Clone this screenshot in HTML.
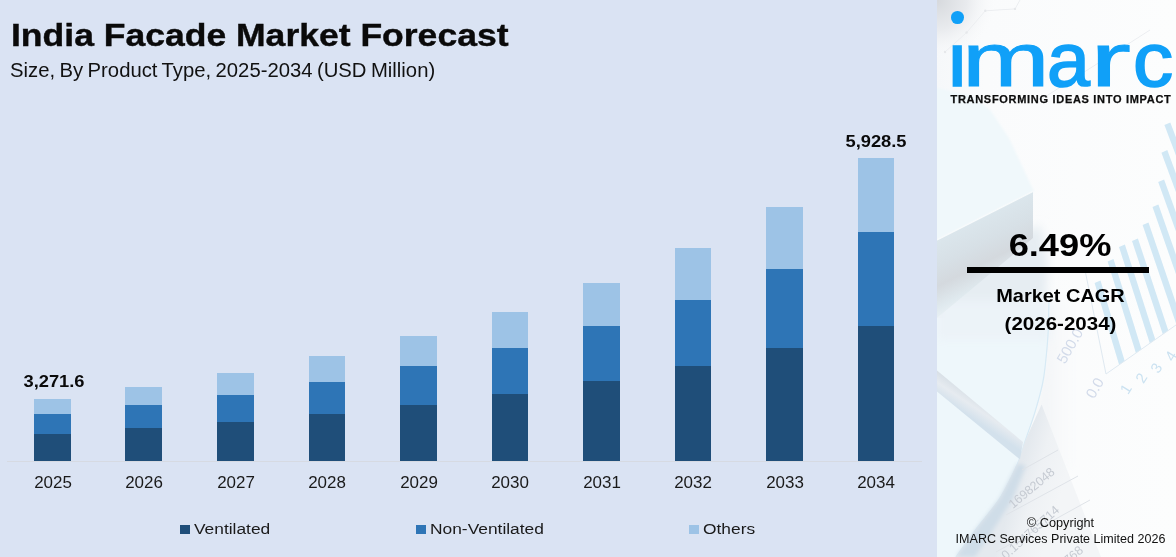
<!DOCTYPE html>
<html lang="en"><head><meta charset="utf-8"><title>India Facade Market Forecast</title>
<style>
html,body{margin:0;padding:0}
body{width:1176px;height:557px;position:relative;overflow:hidden;background:#dae3f3;font-family:"Liberation Sans",sans-serif;color:#000}
.abs{position:absolute;white-space:nowrap}
#title{left:11px;top:15px;font-size:32px;font-weight:bold;line-height:40px;transform-origin:0 0;transform:scaleX(1.11);color:#0a0a0a;-webkit-text-stroke:0.4px #0a0a0a}
#sub{left:9.5px;top:58px;font-size:20px;line-height:24px;transform-origin:0 0;transform:scaleX(1.014);word-spacing:-1.2px;color:#111}
.bar{position:absolute;width:37px}
.d{background:#1f4e79}.m{background:#2e75b6}.l{background:#9dc3e6}
.yr{position:absolute;top:473px;width:80px;text-align:center;font-size:16px;line-height:20px;color:#1a1a1a;transform:scaleX(1.06)}
.val{position:absolute;width:100px;text-align:center;font-size:16.5px;font-weight:bold;line-height:20px;color:#0a0a0a;transform:scaleX(1.11)}
#axis{position:absolute;left:7px;top:461px;width:915px;height:1px;background:#d6dae2}
.leg{position:absolute;top:518.5px;font-size:15.5px;line-height:20px;color:#1a1a1a;white-space:nowrap;transform-origin:0 0;transform:scaleX(1.12)}
.sw{position:absolute;top:525px;width:10px;height:9px}
#panel{position:absolute;left:937px;top:0;width:239px;height:557px;background:#f6f8fb;overflow:hidden}
</style></head><body>
<div id="title" class="abs">India Facade Market Forecast</div>
<div id="sub" class="abs">Size, By Product Type, 2025-2034 (USD Million)</div>

<div class="bar l" style="left:34px;width:37px;top:399px;height:15px"></div>
<div class="bar m" style="left:34px;width:37px;top:414px;height:20px"></div>
<div class="bar d" style="left:34px;width:37px;top:434px;height:27px"></div>
<div class="yr" style="left:12.5px">2025</div>
<div class="bar l" style="left:125px;width:37px;top:387px;height:18px"></div>
<div class="bar m" style="left:125px;width:37px;top:405px;height:23px"></div>
<div class="bar d" style="left:125px;width:37px;top:428px;height:33px"></div>
<div class="yr" style="left:104.0px">2026</div>
<div class="bar l" style="left:217px;width:37px;top:373px;height:22px"></div>
<div class="bar m" style="left:217px;width:37px;top:395px;height:27px"></div>
<div class="bar d" style="left:217px;width:37px;top:422px;height:39px"></div>
<div class="yr" style="left:195.5px">2027</div>
<div class="bar l" style="left:309px;width:36px;top:356px;height:26px"></div>
<div class="bar m" style="left:309px;width:36px;top:382px;height:32px"></div>
<div class="bar d" style="left:309px;width:36px;top:414px;height:47px"></div>
<div class="yr" style="left:287.0px">2028</div>
<div class="bar l" style="left:400px;width:37px;top:336px;height:30px"></div>
<div class="bar m" style="left:400px;width:37px;top:366px;height:39px"></div>
<div class="bar d" style="left:400px;width:37px;top:405px;height:56px"></div>
<div class="yr" style="left:378.5px">2029</div>
<div class="bar l" style="left:492px;width:36px;top:312px;height:36px"></div>
<div class="bar m" style="left:492px;width:36px;top:348px;height:46px"></div>
<div class="bar d" style="left:492px;width:36px;top:394px;height:67px"></div>
<div class="yr" style="left:470.0px">2030</div>
<div class="bar l" style="left:583px;width:37px;top:283px;height:43px"></div>
<div class="bar m" style="left:583px;width:37px;top:326px;height:55px"></div>
<div class="bar d" style="left:583px;width:37px;top:381px;height:80px"></div>
<div class="yr" style="left:561.5px">2031</div>
<div class="bar l" style="left:675px;width:36px;top:248px;height:52px"></div>
<div class="bar m" style="left:675px;width:36px;top:300px;height:66px"></div>
<div class="bar d" style="left:675px;width:36px;top:366px;height:95px"></div>
<div class="yr" style="left:653.0px">2032</div>
<div class="bar l" style="left:766px;width:37px;top:207px;height:62px"></div>
<div class="bar m" style="left:766px;width:37px;top:269px;height:79px"></div>
<div class="bar d" style="left:766px;width:37px;top:348px;height:113px"></div>
<div class="yr" style="left:744.5px">2033</div>
<div class="bar l" style="left:858px;width:36px;top:158px;height:74px"></div>
<div class="bar m" style="left:858px;width:36px;top:232px;height:94px"></div>
<div class="bar d" style="left:858px;width:36px;top:326px;height:135px"></div>
<div class="yr" style="left:836.0px">2034</div>
<div id="axis"></div>
<div class="val" style="left:4px;top:371px">3,271.6</div>
<div class="val" style="left:826px;top:131px">5,928.5</div>
<div class="sw d" style="left:180px"></div><div class="leg" style="left:194px">Ventilated</div>
<div class="sw m" style="left:416px"></div><div class="leg" style="left:430px">Non-Ventilated</div>
<div class="sw l" style="left:689px"></div><div class="leg" style="left:703px">Others</div>
<div id="panel">
<svg class="abs" style="left:0;top:0" width="239" height="557" viewBox="937 0 239 557">
<defs>
<linearGradient id="gbase" x1="0" y1="0" x2="1" y2="0"><stop offset="0" stop-color="#f6f8fa"/><stop offset="0.2" stop-color="#fafbfc"/><stop offset="1" stop-color="#fcfdfd"/></linearGradient>
<radialGradient id="gcorner" gradientUnits="userSpaceOnUse" cx="937" cy="0" r="60"><stop offset="0" stop-color="#d6d9dd"/><stop offset="0.5" stop-color="#e9ebee"/><stop offset="1" stop-color="#fafbfc" stop-opacity="0"/></radialGradient>
<linearGradient id="gface" gradientUnits="userSpaceOnUse" x1="985" y1="216" x2="1019" y2="283"><stop offset="0" stop-color="#dbe6ec"/><stop offset="0.3" stop-color="#d7e0e6"/><stop offset="0.55" stop-color="#d4d9de"/><stop offset="0.8" stop-color="#dfe9ee"/><stop offset="1" stop-color="#edf4f8"/></linearGradient>
<linearGradient id="gpen" gradientUnits="userSpaceOnUse" x1="986" y1="402" x2="974" y2="420"><stop offset="0" stop-color="#d6dee5"/><stop offset="0.5" stop-color="#e6ebf0"/><stop offset="1" stop-color="#d3e1ec"/></linearGradient>
<linearGradient id="gpaper" gradientUnits="userSpaceOnUse" x1="1026" y1="450" x2="1070" y2="463"><stop offset="0" stop-color="#e4e9ee"/><stop offset="0.4" stop-color="#eef1f4"/><stop offset="1" stop-color="#f3f5f7"/></linearGradient>
<linearGradient id="gshade" gradientUnits="userSpaceOnUse" x1="985" y1="515" x2="1000" y2="527"><stop offset="0" stop-color="#cbdae6"/><stop offset="1" stop-color="#e6ebf0" stop-opacity="0"/></linearGradient>
<linearGradient id="gright" gradientUnits="userSpaceOnUse" x1="1045" y1="0" x2="1085" y2="0"><stop offset="0" stop-color="#f3f5f7"/><stop offset="1" stop-color="#fbfcfd" stop-opacity="0"/></linearGradient>
<filter id="b12" x="-20%" y="-20%" width="140%" height="140%"><feGaussianBlur stdDeviation="1.3"/></filter>
<filter id="b2" x="-20%" y="-20%" width="140%" height="140%"><feGaussianBlur stdDeviation="2"/></filter>
<filter id="b1" x="-20%" y="-20%" width="140%" height="140%"><feGaussianBlur stdDeviation="0.7"/></filter>
<filter id="b6" x="-30%" y="-30%" width="160%" height="160%"><feGaussianBlur stdDeviation="5"/></filter>
</defs>
<rect x="937" y="0" width="239" height="557" fill="url(#gbase)"/>
<rect x="937" y="0" width="70" height="70" fill="url(#gcorner)"/>
<g stroke="#eceef1" stroke-width="1" fill="none" filter="url(#b1)"><path d="M945 52 L966.6 32.5 L985.3 10.8 L1015 8.9 L1020 0"/><path d="M1040 100 L1100 62 L1150 30"/></g>
<g fill="#e6e8eb"><circle cx="966.6" cy="32.5" r="1.2"/><circle cx="985.3" cy="10.8" r="1.2"/><circle cx="1015" cy="8.9" r="1.2"/><circle cx="945" cy="52" r="1.2"/></g>
<!-- area right of the curve -->
<path d="M1049 300 L1090 300 L1090 470 L1030 470 Z" fill="url(#gright)" filter="url(#b6)"/>
<!-- soft shade below front face -->
<path d="M937 280 L1040 225 L1048 262 L1046 300 L937 345 Z" fill="#e6edf2" filter="url(#b6)"/>
<!-- lower-left pale blue area -->
<path d="M1049 300 C1048.8 305.8 1048.6 324.2 1048 335 C1047.4 345.8 1046.2 356.8 1045.3 365 C1044.4 373.2 1044.2 376.2 1042.5 384 C1040.8 391.8 1037.8 402.7 1035 412 C1032.2 421.3 1028.4 431.4 1025.5 440 C1022.6 448.6 1021.9 453.7 1017.6 463.4 C1013.4 473.1 1007.1 486.8 1000 498 C992.9 509.2 982.3 520.8 975 530.6 C967.7 540.4 960.2 551.1 956 557 C951.8 562.9 951.0 564.5 950 566 L930 566 L930 318 L1049 318 Z" fill="#eef7fb" filter="url(#b1)"/>
<path d="M937 300 L1049 300 L1049 340 L937 340 Z" fill="#ecf3f8" filter="url(#b6)"/>
<path d="M1049 300 C1048.8 305.8 1048.6 324.2 1048 335 C1047.4 345.8 1046.2 356.8 1045.3 365 C1044.4 373.2 1044.2 376.2 1042.5 384 C1040.8 391.8 1037.8 402.7 1035 412 C1032.2 421.3 1028.4 431.4 1025.5 440 C1022.6 448.6 1021.9 453.7 1017.6 463.4 C1013.4 473.1 1007.1 486.8 1000 498 C992.9 509.2 982.3 520.8 975 530.6 C967.7 540.4 960.2 551.1 956 557 C951.8 562.9 951.0 564.5 950 566" fill="none" stroke="#d7eaf5" stroke-width="1.2" filter="url(#b1)"/>
<!-- block top face -->
<path d="M930 86 L972 96 L991 111 L1009 138 L1034 191.5 L930 243 Z" fill="#f0f8fb" filter="url(#b12)"/>
<!-- block front face -->
<path d="M937 240 L1033 191.5 L1033 238 L937 318 Z" fill="url(#gface)" filter="url(#b1)"/>
<path d="M937 240 L1033 191.5" stroke="#f8fbfc" stroke-width="1.3" fill="none" filter="url(#b1)"/>
<!-- chart stripes -->
<g fill="#d1e8f5" filter="url(#b1)">
<path d="M1164.4 125.0 L1170.3 122.4 L1232.3 285.6 L1226.9 289.4 Z"/>
<path d="M1161.4 152.7 L1167.3 150.1 L1220.5 293.9 L1215.0 297.7 Z"/>
<path d="M1158.2 182.0 L1164.1 179.4 L1208.4 302.3 L1202.9 306.2 Z"/>
<path d="M1152.5 207.0 L1158.4 204.4 L1195.8 311.2 L1190.3 315.0 Z"/>
<path d="M1142.6 225.0 L1148.5 222.4 L1182.0 320.8 L1176.5 324.7 Z"/>
<path d="M1132.0 241.0 L1137.9 238.4 L1168.3 330.4 L1162.8 334.3 Z"/>
<path d="M1119.0 247.0 L1124.9 244.4 L1155.3 339.5 L1149.8 343.3 Z"/>
<path d="M1107.6 261.6 L1113.5 259.0 L1141.5 349.2 L1135.9 353.0 Z"/>
<path d="M1094.6 283.0 L1100.5 280.4 L1124.7 360.9 L1119.1 364.8 Z"/>
</g>
<path d="M1085 270 L1106 374 L1176 325" fill="none" stroke="#dfe9f1" stroke-width="1"/>
<g font-family="Liberation Sans, sans-serif" fill="#d3dbea" font-size="15" text-anchor="middle" filter="url(#b1)">
<text transform="translate(1070,346) rotate(-60)" y="5">500.0</text>
<text transform="translate(1095,388) rotate(-60)" y="5">0.0</text>
<text transform="translate(1126,389) rotate(-58)" y="5" fill="#cbe2f1">1</text>
<text transform="translate(1141.5,378) rotate(-58)" y="5" fill="#cbe2f1">2</text>
<text transform="translate(1156.5,368) rotate(-58)" y="5" fill="#cbe2f1">3</text>
<text transform="translate(1171,356) rotate(-58)" y="5" fill="#cbe2f1">4</text>
</g>
<!-- paper -->
<path d="M1041.6 404.6 L1101 557 L956 557 L975 530.6 L1000 498 L1017.6 463.4 L1025.5 440 Z" fill="url(#gpaper)" filter="url(#b1)"/>
<path d="M1017.6 463.4 L1000 498 L975 530.6 L956 557 L975 557 L990 535 L1012 500 L1026 466 Z" fill="#cfdde8" filter="url(#b2)"/>
<g stroke="#dfe3e8" stroke-width="1" fill="none">
<path d="M1022 470 L1058 450"/><path d="M1006 515 L1078 476"/><path d="M996 552 L1090 500"/>
</g>
<g font-family="Liberation Sans, sans-serif" fill="#c6cbd3" font-size="12.5" filter="url(#b1)">
<text transform="translate(1013,509) rotate(-40)">16982048</text>
<text transform="translate(1006,560) rotate(-42)">0.154765714</text>
<text transform="translate(1068,565) rotate(-40)">768</text>
</g>
<!-- pen -->
<path d="M937 370.5 L1023 442 L1020 459.5 L937 391.5 Z" fill="url(#gpen)" filter="url(#b1)"/>
</svg>
<div class="abs" id="logo" style="left:0;top:22px;width:239px;height:76px;font-size:76px;font-weight:normal;color:#10a0f8;line-height:1"><span style="position:absolute;left:11.1px;top:0;transform-origin:0 0;transform:scaleX(1.1);-webkit-text-stroke:1.7px #10a0f8;clip-path:inset(19px 0 0 0);">i</span><span style="position:absolute;left:24.9px;top:0;transform-origin:0 0;transform:scaleX(1.384);-webkit-text-stroke:0.9px #10a0f8;">m</span><span style="position:absolute;left:110px;top:0;transform-origin:0 0;transform:scaleX(1.015);-webkit-text-stroke:1.7px #10a0f8;">a</span><span style="position:absolute;left:152.7px;top:0;transform-origin:0 0;transform:scaleX(1.62);-webkit-text-stroke:0.8px #10a0f8;">r</span><span style="position:absolute;left:195.9px;top:0;transform-origin:0 0;transform:scaleX(1.057);-webkit-text-stroke:1.7px #10a0f8;">c</span></div>
<div class="abs" id="dot" style="left:14.3px;top:11.3px;width:12.8px;height:12.8px;border-radius:50%;background:#10a0f8"></div>
<div class="abs" id="tag" style="left:13.5px;top:92px;font-size:11px;font-weight:bold;letter-spacing:0.7px;line-height:14px;color:#0d0d0d;-webkit-text-stroke:0.25px #0d0d0d">TRANSFORMING IDEAS INTO IMPACT</div>
<div class="abs" id="cagr" style="left:0;width:246px;text-align:center;top:227px;font-size:31.5px;font-weight:bold;line-height:36px;transform:scaleX(1.15)">6.49%</div>
<div class="abs" id="rule" style="left:30px;top:267px;width:182px;height:6px;background:#000"></div>
<div class="abs" id="mc1" style="left:0;width:247px;text-align:center;top:284px;font-size:19px;font-weight:bold;line-height:24px;transform:scaleX(1.05)">Market CAGR</div>
<div class="abs" id="mc2" style="left:0;width:247px;text-align:center;top:312px;font-size:19px;font-weight:bold;line-height:24px;transform:scaleX(1.08)">(2026-2034)</div>
<div class="abs" id="cp1" style="left:0;width:247px;text-align:center;top:516px;font-size:12px;line-height:15px;color:#111;transform:scaleX(1.06)">© Copyright</div>
<div class="abs" id="cp2" style="left:0;width:247px;text-align:center;top:532px;font-size:12px;line-height:15px;color:#111;transform:scaleX(1.045)">IMARC Services Private Limited 2026</div>
</div>

</body></html>
